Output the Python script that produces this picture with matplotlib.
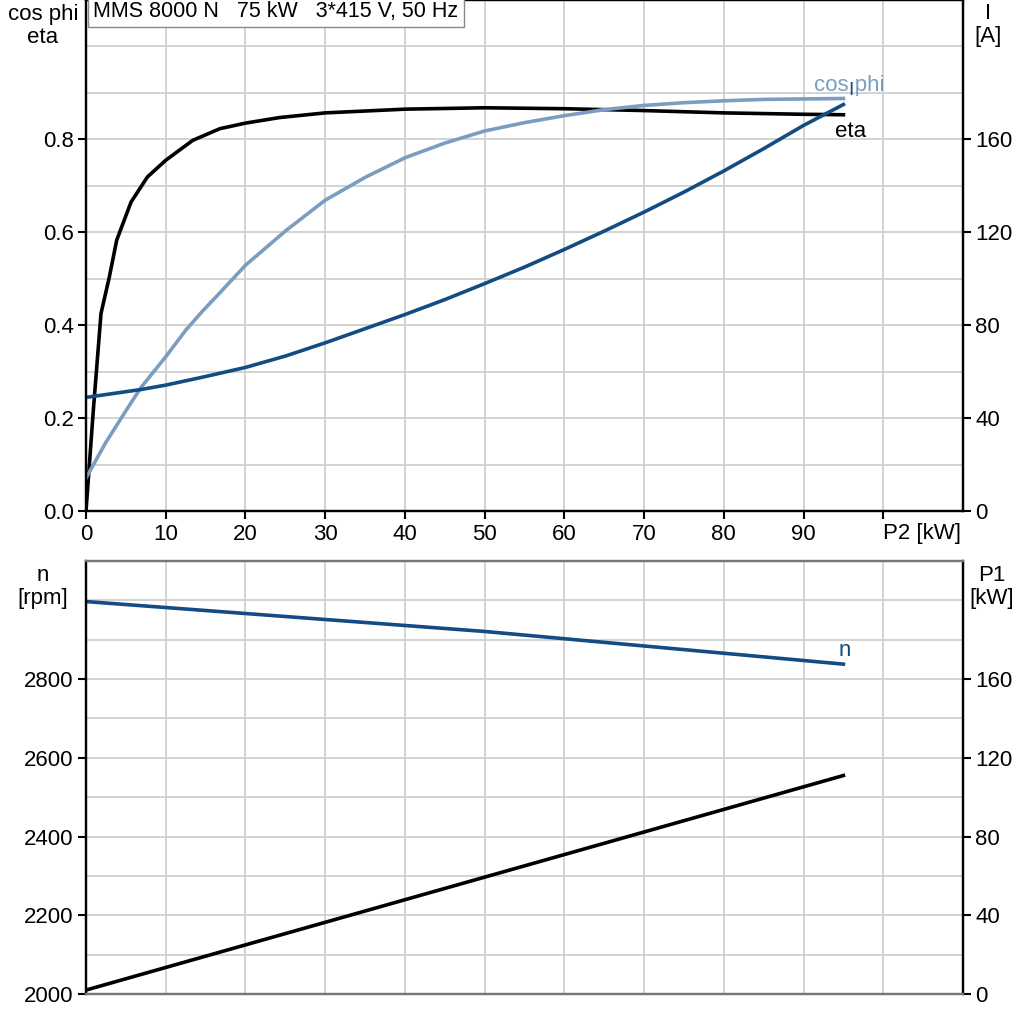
import matplotlib
matplotlib.use('Agg')
import matplotlib.pyplot as plt

plt.rcParams['font.family'] = ['Liberation Sans', 'DejaVu Sans']
plt.rcParams['font.size'] = 16

# values
p2_eta = [0, 0.92, 1.88, 2.93, 3.85, 5.65, 7.7, 10, 13.4, 16.8, 20, 24.3, 30, 40, 50, 60,
          70, 80, 90, 95]
eta = [0, 0.217, 0.425, 0.504, 0.583, 0.665, 0.719, 0.755, 0.798, 0.823, 0.835, 0.847,
       0.857, 0.865, 0.868, 0.866, 0.862, 0.857, 0.854, 0.853]

p2_cos = [0, 2.5, 5.2, 6.9, 10, 12.5, 14.6, 16.7, 20, 25.1, 30, 35.1, 40.1, 45, 50, 55, 60,
          65, 70, 75, 80, 85, 90, 95]
cos_phi = [0.071, 0.148, 0.221, 0.266, 0.332, 0.389, 0.430, 0.468, 0.529, 0.604, 0.669, 0.719,
           0.761, 0.792, 0.818, 0.836, 0.851, 0.864, 0.873, 0.879, 0.883, 0.886, 0.887, 0.888]

p2_i = [0, 6.9, 10, 14.6, 20, 25.1, 30, 35.1, 40.1, 45, 50, 55, 60, 65, 70, 75, 80, 85, 90, 95]
current = [48.9, 52.3, 54.2, 57.6, 61.8, 66.8, 72.4, 78.6, 84.7, 91.0, 97.9, 105.0, 112.6,
           120.5, 128.7, 137.3, 146.4, 156.0, 166.0, 175.0]

p2_n = [0, 50, 95]
speed = [2997, 2921, 2838]

p2_p1 = [0, 95]
p1 = [2.0, 111.0]

x_ticks = [0, 10, 20, 30, 40, 50, 60, 70, 80, 90, 100]
x_labels = ['0', '10', '20', '30', '40', '50', '60', '70', '80', '90', 'P2 [kW]']

dark_blue = '#134c83'
light_blue = '#7a9ec0'
grid_col = '#d0d0d0'
lw = 2.6

fig = plt.figure(figsize=(10.24, 10.24), dpi=100)
ax1 = fig.add_axes([86/1024, 1-511/1024, 877/1024, 511/1024])
ax1r = ax1.twinx()
ax2 = fig.add_axes([86/1024, 1-994/1024, 877/1024, 433/1024])
ax2r = ax2.twinx()

for ax in (ax1, ax1r, ax2, ax2r):
    ax.tick_params(which='major', direction='out', length=6, width=1.5, pad=3, labelsize=16)
    for s in ax.spines.values():
        s.set_linewidth(1.6)
        s.set_color('black')

# top panel
ax1.plot(p2_eta, eta, color='black', lw=lw)
ax1.plot(p2_cos, cos_phi, color=light_blue, lw=lw)
ax1r.plot(p2_i, current, color=dark_blue, lw=lw)

ax1.set_xlim(0, 110)
ax1.set_ylim(0, 1.1)
ax1r.set_ylim(0, 220)
ax1.set_xticks(x_ticks)
ax1.set_xticklabels(x_labels)
ax1.get_xticklabels()[-1].set_horizontalalignment('left')
ax1.get_xticklabels()[-1].set_x(99.6)
ax1.set_yticks([0, 0.2, 0.4, 0.6, 0.8])
ax1.set_yticklabels(['0.0', '0.2', '0.4', '0.6', '0.8'])
ax1.set_yticks([0.1, 0.3, 0.5, 0.7, 0.9, 1.0], minor=True)
ax1r.set_yticks([0, 40, 80, 120, 160])

ax1.text(95.7, 0.916, 'cos phi', color=light_blue, ha='center', va='center')
ax1.text(95.9, 0.817, 'eta', color='black', ha='center', va='center')
ax1r.text(96.0, 181, 'I', color=dark_blue, ha='center', va='center', fontsize=14)

ax1r.text(0.008, 0.999, 'MMS 8000 N   75 kW   3*415 V, 50 Hz', transform=ax1r.transAxes,
          ha='left', va='top', fontsize=15.5,
          bbox=dict(boxstyle='square,pad=0.25', facecolor='white', edgecolor='#888888', lw=1))

# bottom panel
ax2.plot(p2_n, speed, color=dark_blue, lw=lw)
ax2r.plot(p2_p1, p1, color='black', lw=lw)

ax2.set_xlim(0, 110)
ax2.set_ylim(2000, 3100)
ax2r.set_ylim(0, 220)
ax2.set_xticks(x_ticks)
ax2.tick_params(axis='x', length=0, labelbottom=False)
ax2r.tick_params(axis='x', length=0, labelbottom=False)
ax2.set_yticks([2000, 2200, 2400, 2600, 2800])
ax2.set_yticks([2100, 2300, 2500, 2700, 2900, 3000], minor=True)
ax2r.set_yticks([0, 40, 80, 120, 160])
ax2.text(95.2, 2872, 'n', color=dark_blue, ha='center', va='center')

for ax in (ax1, ax2):
    ax.grid(True, which='both', color=grid_col, lw=1.3)
    ax.set_axisbelow(True)
    ax.tick_params(axis='y', which='minor', length=0)

for ax in (ax2, ax2r):
    ax.spines['top'].set_color('#777777')
    ax.spines['bottom'].set_color('#777777')

# axis titles
fig.text(43/1024, 1-4/1024, 'cos phi\neta', ha='center', va='top', multialignment='center',
         linespacing=1.1)
fig.text(988/1024, 1-3/1024, 'I\n[A]', ha='center', va='top', multialignment='center',
         linespacing=1.1)
fig.text(43/1024, 1-565/1024, 'n\n[rpm]', ha='center', va='top', multialignment='center',
         linespacing=1.1)
fig.text(992/1024, 1-565/1024, 'P1\n[kW]', ha='center', va='top', multialignment='center',
         linespacing=1.1)

fig.savefig('out.png', dpi=100)
